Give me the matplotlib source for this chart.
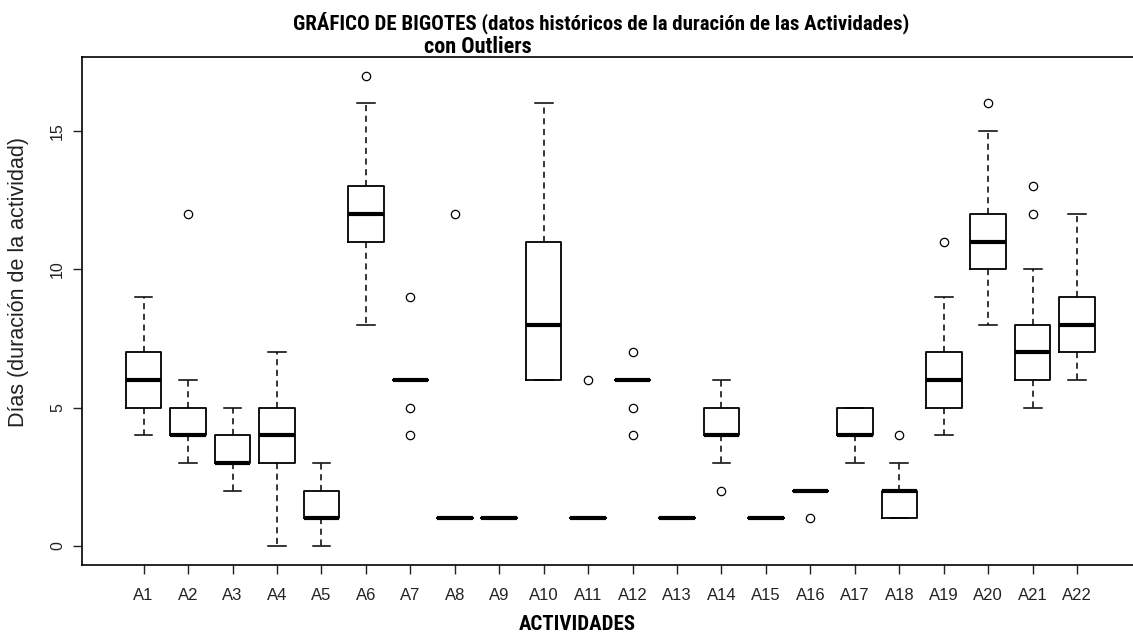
import numpy as np
import matplotlib.pyplot as plt

# data (days)
actividades = ["A%d" % i for i in range(1, 23)]
whislo = [4, 3, 2, 0, 0, 8, 6, 1, 1, 6, 1, 6, 1, 3, 1, 2, 3, 1, 4, 8, 5, 6]
q1 = [5, 4, 3, 3, 1, 11, 6, 1, 1, 6, 1, 6, 1, 4, 1, 2, 4, 1, 5, 10, 6, 7]
med = [6, 4, 3, 4, 1, 12, 6, 1, 1, 8, 1, 6, 1, 4, 1, 2, 4, 2, 6, 11, 7, 8]
q3 = [7, 5, 4, 5, 2, 13, 6, 1, 1, 11, 1, 6, 1, 5, 1, 2, 5, 2, 7, 12, 8, 9]
whishi = [9, 6, 5, 7, 3, 16, 6, 1, 1, 16, 1, 6, 1, 6, 1, 2, 5, 3, 9, 15, 10, 12]
outliers = [[], [12], [], [], [], [17], [9, 5, 4], [12], [], [], [6], [7, 5, 4],
            [], [2], [], [1], [], [4], [11], [16], [12, 13], []]

stats = []
for i, name in enumerate(actividades):
    stats.append({"label": name, "whislo": whislo[i], "q1": q1[i], "med": med[i],
                  "q3": q3[i], "whishi": whishi[i], "fliers": outliers[i]})

plt.rcParams['font.family'] = ['Liberation Sans', 'DejaVu Sans']
narrow = ['Roboto Condensed', 'DejaVu Sans']

fig = plt.figure(figsize=(11.33, 6.42), dpi=100)
ax = fig.add_axes([0.0726, 0.1203, 0.9322, 0.7913])

ax.bxp(stats, positions=np.arange(1, 23), widths=0.8, capwidths=0.4,
       boxprops=dict(color="black", linewidth=1.3),
       medianprops=dict(color="black", linewidth=3, solid_capstyle="butt"),
       whiskerprops=dict(color="black", linewidth=1.1, linestyle=(0, (4, 3))),
       capprops=dict(color="black", linewidth=1.1),
       flierprops=dict(marker="o", markersize=6, markerfacecolor="none",
                       markeredgecolor="black", markeredgewidth=0.9))

ax.set_xlim(-0.38, 23.38)
ax.set_ylim(-0.68, 17.68)
ax.set_yticks([0, 5, 10, 15])
ax.set_yticklabels(["0", "5", "10", "15"], rotation=90, va="center")
ax.set_xticks(np.arange(1, 23))
ax.set_xticklabels(actividades)
ax.tick_params(axis="both", direction="out", length=6.5, width=1, colors="#222222")
ax.tick_params(axis="x", pad=10, labelsize=12)
ax.tick_params(axis="y", pad=6, labelsize=11.5)
for s in ax.spines.values():
    s.set_linewidth(1.2)

ax.set_ylabel("Días (duración de la actividad)", fontsize=15.5, color="#222222")
ax.yaxis.set_label_coords(-0.0505, 0.556)
ax.set_xlabel("ACTIVIDADES", fontsize=15, fontweight="bold", family=narrow)
ax.xaxis.set_label_coords(0.469, -0.098)

fig.text(0.531, 0.982, "GRÁFICO DE BIGOTES (datos históricos de la duración de las Actividades)",
         ha="center", va="top", fontsize=15, fontweight="bold", family=narrow)
fig.text(0.422, 0.944, "con Outliers", ha="center", va="top", fontsize=16, fontweight="bold", family=narrow)

fig.savefig("out.png", dpi=100)
